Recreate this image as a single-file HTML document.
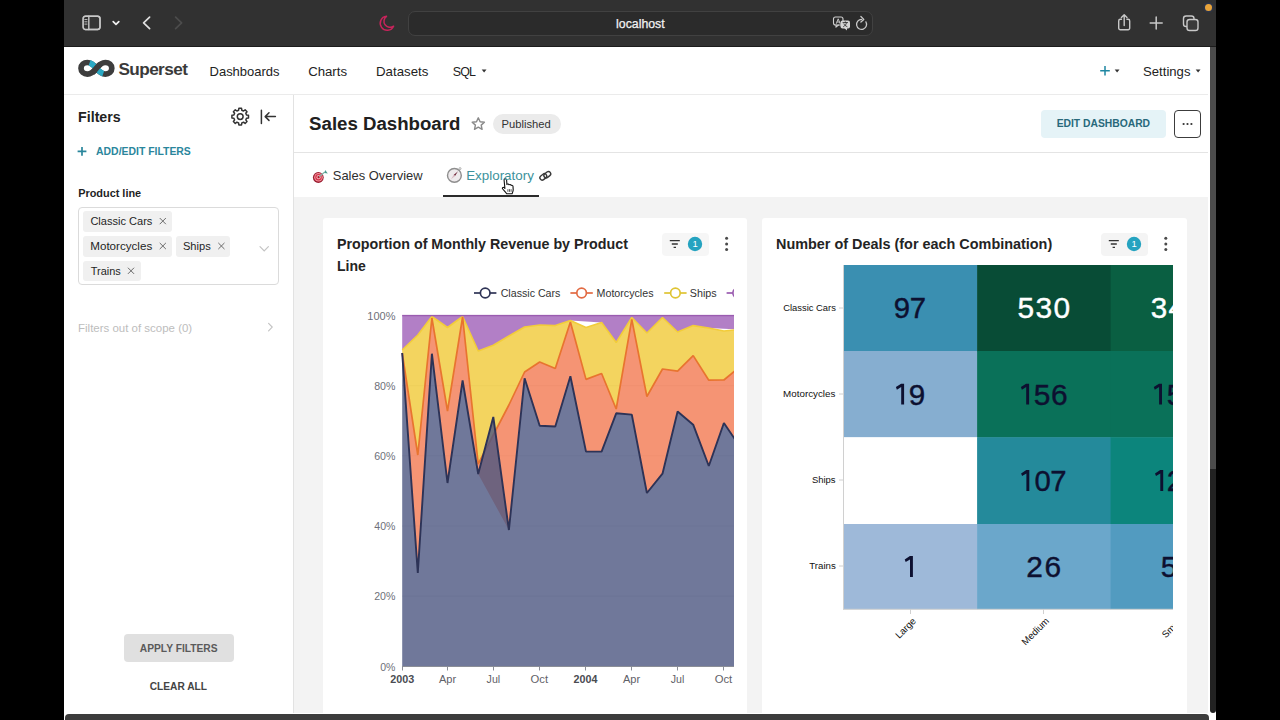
<!DOCTYPE html>
<html><head><meta charset="utf-8"><title>Sales Dashboard</title>
<style>
html,body{margin:0;padding:0;background:#000;width:1280px;height:720px;overflow:hidden;font-family:"Liberation Sans",sans-serif;}
.abs{position:absolute}
.t{position:absolute;white-space:pre;font-family:"Liberation Sans",sans-serif}
#win{position:absolute;left:64px;top:0;width:1152px;height:720px;background:#fff;overflow:hidden}
#page{position:absolute;left:0;top:0;width:1280px;height:720px;overflow:hidden}
.tag{position:absolute;background:#f0f0f0;border-radius:3px;height:20.5px}
</style></head><body>
<div id="win"></div>
<div id="page">
 <!-- toolbar -->
 <div class="abs" style="left:64px;top:0;width:1152px;height:46px;background:#313131"></div>
 <div class="abs" style="left:64px;top:45.5px;width:1152px;height:1.5px;background:#1c1c1c"></div>
 <div class="abs" style="left:408px;top:11px;width:463px;height:23px;border:1px solid #414141;border-radius:7px;background:#2b2b2b"></div>
 <svg class="abs" style="left:64px;top:0" width="1152" height="46" viewBox="64 0 1152 46" fill="none" stroke="#c8c8c8" stroke-width="1.4" stroke-linecap="round" stroke-linejoin="round">
  <rect x="83.2" y="16.3" width="16.8" height="13.2" rx="2.4" fill="#363636"/><rect x="83.2" y="16.3" width="5.6" height="13.2" fill="#313131" stroke="none"/><rect x="83.2" y="16.3" width="16.8" height="13.2" rx="2.4"/><line x1="88.8" y1="16.3" x2="88.8" y2="29.5"/>
  <g stroke-width="0.9"><line x1="84.8" y1="19.5" x2="87" y2="19.5"/><line x1="84.8" y1="21.8" x2="87" y2="21.8"/><line x1="84.8" y1="24.1" x2="87" y2="24.1"/></g>
  <polyline points="113.2,21.6 116,24.4 118.8,21.6" stroke="#f0f0f0" stroke-width="1.7"/>
  <polyline points="149.6,17.2 143.6,22.9 149.6,28.6" stroke="#e0e0e0" stroke-width="1.7"/>
  <polyline points="175.6,17.2 181.6,22.9 175.6,28.6" stroke="#4c4c4c" stroke-width="1.7"/>
  <path d="M386.5,16.3 A7,7 0 1 0 393.6,26.2 A5.6,5.6 0 0 1 386.5,16.3 Z" stroke="#c7245b" stroke-width="1.5"/>
  <!-- translate -->
  <g stroke="#d0d0d0" stroke-width="1.1"><rect x="833.5" y="17" width="9.5" height="8" rx="2"/><path d="M836,25 l0,2.2 l2.4,-2.2"/></g>
  <g stroke="none" fill="#d6d6d6"><rect x="840.5" y="20.5" width="9.5" height="8" rx="2"/><path d="M847,28 l0,2.6 l-2.8,-2.6z"/></g>
  <g stroke="#313131" stroke-width="0.9"><path d="M843,22.6h4.6M845.3,21.8v0.8M843.6,26.6c1.6,-0.8 2.6,-2.2 2.9,-3.8M844,24c0.6,1.2 1.6,2 3,2.6"/></g>
  <g stroke="#d0d0d0" stroke-width="0.9"><path d="M836.4,23.4l1.8,-4.6l1.8,4.6M837,22h2.4"/></g>
  <!-- reload -->
  <path d="M865.9,21.9 A5,5 0 1 1 861.6,19.4" stroke-width="1.3"/><path d="M860.9,16.5l2.9,2.9l-2.9,2.7" stroke-width="1.3"/>
  <!-- share -->
  <path d="M1121.5,19.3h-1.2a1.6,1.6 0 0 0 -1.6,1.6v7.2a1.6,1.6 0 0 0 1.6,1.6h7.8a1.6,1.6 0 0 0 1.6,-1.6v-7.2a1.6,1.6 0 0 0 -1.6,-1.6h-1.2"/><path d="M1124.2,25.6v-10.6M1121.4,17.6l2.8,-2.8l2.8,2.8"/>
  <path d="M1150.2,23h12M1156.2,17v12" stroke-width="1.5"/>
  <rect x="1183.5" y="16" width="10.5" height="10.5" rx="2.6"/><rect x="1187" y="19.5" width="11" height="11" rx="2.6" fill="#3a3a3a"/>
 </svg>
 <div class="abs" style="left:1205.2px;top:3.5px;width:7px;height:7px;border-radius:50%;background:#e9a43a;box-shadow:0 0 2px 1px rgba(40,60,110,0.7)"></div>

 <!-- nav -->
 <div class="abs" style="left:64px;top:94px;width:1146px;height:1px;background:#ebebeb"></div>
 <svg class="abs" style="left:76px;top:57px" width="42" height="24" viewBox="76 57 42 24" fill="none" stroke-linecap="butt">
  <path d="M96.4,68.3 C93.4,64.4 90.9,62.5 87.4,62.5 C83.8,62.5 81,65.1 81,68.3 C81,71.5 83.8,74.1 87.4,74.1 C90.9,74.1 93.4,72.2 96.4,68.3 C99.4,64.4 101.9,62.5 105.4,62.5 C109,62.5 111.8,65.1 111.8,68.3 C111.8,71.5 109,74.1 105.4,74.1 C101.9,74.1 99.4,72.2 96.4,68.3 Z" stroke="#3d3d3d" stroke-width="5.7"/>
  <path d="M89.6,62.8 C92.4,63.8 94.4,65.7 96.4,68.3 C98.4,70.9 100.4,72.8 103.2,73.8" stroke="#2aa9c4" stroke-width="5.7"/>
  <path d="M92.6,72.4 C94,71.3 95.2,69.9 96.4,68.3 C97.6,66.7 98.8,65.3 100.2,64.2" stroke="#3d3d3d" stroke-width="5.7"/>
 </svg>
 <svg class="abs" style="left:470px;top:60px" width="740" height="24" viewBox="470 60 740 24">
  <path d="M481.7,69.5h4.8l-2.4,2.9z" fill="#333"/>
  <path d="M1114.7,69.5h4.8l-2.4,2.9z" fill="#333"/>
  <path d="M1195.7,69.5h4.8l-2.4,2.9z" fill="#333"/>
  <path d="M1100.2,70.8h9.6M1105,66v9.6" stroke="#1f87a2" stroke-width="1.5" fill="none"/>
 </svg>

 <!-- sidebar -->
 <div class="abs" style="left:293px;top:95px;width:1px;height:619px;background:#e2e2e2"></div>
 <svg class="abs" style="left:228px;top:104px" width="56" height="26" viewBox="228 104 56 26" fill="none" stroke="#333" stroke-width="1.5" stroke-linecap="round" stroke-linejoin="round">
  <circle cx="240.2" cy="116.6" r="2.9"/>
  <path d="M246.50,114.99 L248.49,115.26 L248.49,117.94 L246.50,118.21 L245.79,119.92 L247.01,121.52 L245.12,123.41 L243.52,122.19 L241.81,122.90 L241.54,124.89 L238.86,124.89 L238.59,122.90 L236.88,122.19 L235.28,123.41 L233.39,121.52 L234.61,119.92 L233.90,118.21 L231.91,117.94 L231.91,115.26 L233.90,114.99 L234.61,113.28 L233.39,111.68 L235.28,109.79 L236.88,111.01 L238.59,110.30 L238.86,108.31 L241.54,108.31 L241.81,110.30 L243.52,111.01 L245.12,109.79 L247.01,111.68 L245.79,113.28Z"/>
  <path d="M261.4,110.2v13.2M275.4,116.6h-10M269,112.8l-3.8,3.8l3.8,3.8"/>
 </svg>
 <svg class="abs" style="left:76px;top:144px" width="14" height="14" viewBox="76 144 14 14"><path d="M77.6,151.4h8.8M82,147v8.8" stroke="#2a869c" stroke-width="1.7" fill="none"/></svg>
 <div class="abs" style="left:78.2px;top:207.3px;width:200.6px;height:77.4px;border:1px solid #dbdbdb;border-radius:4px;box-sizing:border-box"></div>
 <div class="tag" style="left:82.8px;top:211px;width:89.2px"></div>
 <div class="tag" style="left:82.8px;top:236px;width:89.2px"></div>
 <div class="tag" style="left:175.5px;top:236px;width:54.8px"></div>
 <div class="tag" style="left:82.8px;top:260.5px;width:58px"></div>
 <svg class="abs" style="left:64px;top:200px" width="230" height="140" viewBox="64 200 230 140" fill="none" stroke="#6b6b6b" stroke-width="1" stroke-linecap="round">
  <path d="M160,218.3l5.6,5.6M165.6,218.3l-5.6,5.6"/>
  <path d="M160,243.2l5.6,5.6M165.6,243.2l-5.6,5.6"/>
  <path d="M218.6,243.2l5.6,5.6M224.2,243.2l-5.6,5.6"/>
  <path d="M128.2,268l5.6,5.6M133.8,268l-5.6,5.6"/>
  <path d="M260,246.6l4.2,4.4l4.2,-4.4" stroke="#c4c4c4" stroke-width="1.2"/>
  <path d="M268.6,323.4l3.6,3.7l-3.6,3.7" stroke="#c4c4c4" stroke-width="1.2"/>
 </svg>
 <div class="abs" style="left:124px;top:634px;width:109.5px;height:27.5px;background:#e0e0e0;border-radius:4px"></div>

 <!-- header -->
 <div class="abs" style="left:294px;top:152px;width:916px;height:1px;background:#e4e4e4"></div>
 <svg class="abs" style="left:468px;top:114px" width="20" height="20" viewBox="468 114 20 20"><path d="M478.3,117.8l1.8,3.95l4.3,0.46l-3.2,2.9l0.9,4.25l-3.8,-2.2l-3.8,2.2l0.9,-4.25l-3.2,-2.9l4.3,-0.46z" fill="none" stroke="#8a8a8a" stroke-width="1.4" stroke-linejoin="round"/></svg>
 <div class="abs" style="left:493px;top:113.5px;width:67.5px;height:20px;background:#ebebeb;border-radius:10px"></div>
 <div class="abs" style="left:1041px;top:110px;width:125px;height:28px;background:#e5f3f7;border-radius:4px"></div>
 <div class="abs" style="left:1174px;top:110px;width:27px;height:28px;border:1px solid #3c3c3c;border-radius:4px;box-sizing:border-box"></div>
 <svg class="abs" style="left:1180px;top:120px" width="16" height="8" viewBox="1180 120 16 8" fill="#333"><circle cx="1183.6" cy="124" r="1.1"/><circle cx="1187.5" cy="124" r="1.1"/><circle cx="1191.4" cy="124" r="1.1"/></svg>

 <!-- tabs -->
 <div class="abs" style="left:443px;top:195.2px;width:95.5px;height:1.7px;background:#2b2b2b"></div>
 <div class="abs" style="left:294px;top:196.6px;width:916px;height:517px;background:#f3f3f3"></div>
 <svg class="abs" style="left:308px;top:164px" width="250" height="36" viewBox="308 164 250 36">
  <!-- dart -->
  <circle cx="318.3" cy="177.5" r="5.4" fill="#9a1b2e"/><circle cx="318.5" cy="177.3" r="4.3" fill="#f2909a"/><circle cx="318.5" cy="177.3" r="3.2" fill="#d4334a"/><circle cx="318.6" cy="177.2" r="2.1" fill="#f6a4ac"/><circle cx="318.6" cy="177.2" r="1.1" fill="#a8182b"/>
  <path d="M319.2,176.6l5.6,-4.6" stroke="#7fb3a7" stroke-width="1.2"/><path d="M325.2,170.1l2.6,3.3l-3.3,-0.4z" fill="#4a9d8e"/>
  <!-- compass -->
  <circle cx="454.4" cy="175.4" r="6.9" fill="#eeeaec" stroke="#8e8e8e" stroke-width="1.4"/>
  <circle cx="460" cy="168.6" r="1" fill="none" stroke="#9a9a9a" stroke-width="0.8"/>
  <path d="M458,171.2l-3,4.9l-1.3,-1.2z" fill="#6a1c30"/><path d="M450.8,179.6l3,-4.9l1.3,1.2z" fill="#d8b8c0"/>
  <!-- link -->
  <g fill="none" stroke="#3a3a3a" stroke-width="1.4"><rect x="539.6" y="174.6" width="7.4" height="4.6" rx="2.3" transform="rotate(-38 543.3 176.9)"/><rect x="543.6" y="172.4" width="7.4" height="4.6" rx="2.3" transform="rotate(-38 547.3 174.7)"/></g>
  <!-- cursor hand -->
  <g transform="translate(501.5,178.2)">
   <path d="M3.2,0.6 C4.2,0.2 5,0.9 5.1,1.8 L5.4,6.2 C6,5.6 7.2,5.7 7.5,6.6 C8.2,6 9.4,6.3 9.6,7.2 C10.3,6.8 11.4,7.2 11.5,8.2 L11.7,11.4 C11.8,13.2 10.9,14.2 10.6,15.6 L5.2,15.6 C4.4,14 2.4,12.2 1.2,10.8 C0.4,9.8 1.4,8.6 2.6,9.4 L3.4,10.2 L2.6,2 C2.5,1.3 2.7,0.8 3.2,0.6 Z" fill="#fff" stroke="#111" stroke-width="1.1" stroke-linejoin="round"/>
   <path d="M6.4,11v2.6M8,11v2.6M9.6,11v2.6" stroke="#111" stroke-width="0.7"/>
  </g>
 </svg>

 <!-- cards -->
 <div class="abs" style="left:322.7px;top:218.2px;width:424.8px;height:500px;background:#fff;border-radius:3px"></div>
 <div class="abs" style="left:762.2px;top:218.2px;width:424.8px;height:500px;background:#fff;border-radius:3px"></div>
 <div class="abs" style="left:661.5px;top:233px;width:47px;height:22.5px;background:#f6f6f6;border-radius:4px"></div>
 <div class="abs" style="left:1100.5px;top:233px;width:47px;height:22.5px;background:#f4f4f4;border-radius:4px"></div>
 <svg class="abs" style="left:660px;top:230px" width="520" height="30" viewBox="660 230 520 30">
  <g stroke="#333" stroke-width="1.3" fill="none"><path d="M669.8,240.6h10M671.8,244h6M673.6,247.4h2.4"/><path d="M1108.8,240.6h10M1110.8,244h6M1112.6,247.4h2.4"/></g>
  <circle cx="695" cy="244" r="7.2" fill="#25a3c0"/><circle cx="1134" cy="244" r="7.2" fill="#25a3c0"/>
  <g fill="#4a4a4a"><circle cx="726.6" cy="238.2" r="1.5"/><circle cx="726.6" cy="243.9" r="1.5"/><circle cx="726.6" cy="249.6" r="1.5"/>
  <circle cx="1165.8" cy="238.2" r="1.5"/><circle cx="1165.8" cy="243.9" r="1.5"/><circle cx="1165.8" cy="249.6" r="1.5"/></g>
 </svg>
 
<svg class="abs" style="left:322px;top:280px" width="412.3" height="420" viewBox="322 280 412.3 420">
 <defs><clipPath id="plotclip"><rect x="400" y="314.6" width="340" height="353"/></clipPath></defs>
 <g stroke="#e6e6e6" stroke-width="1">
  <line x1="402" x2="740" y1="315.5" y2="315.5"/><line x1="402" x2="740" y1="385.7" y2="385.7"/><line x1="402" x2="740" y1="455.8" y2="455.8"/><line x1="402" x2="740" y1="526" y2="526"/><line x1="402" x2="740" y1="596.1" y2="596.1"/>
 </g>
 <g fill="none" stroke-width="1.9" stroke-linejoin="bevel" clip-path="url(#plotclip)">
 <polygon points="402.2,315.5 417.8,315.5 431.9,315.5 447.5,315.5 462.6,315.5 478.2,315.5 493.3,315.5 508.9,315.5 524.6,315.5 539.7,315.5 555.3,315.5 570.4,315.5 601.6,315.5 616.2,315.5 631.8,315.5 646.9,315.5 662.5,315.5 677.6,315.5 693.2,315.5 708.8,315.5 739.5,315.5 739.5,329.5 708.8,328.0 693.2,325.6 677.6,332.0 662.5,317.5 646.9,333.0 631.8,317.5 616.2,342.5 601.6,322.5 570.4,320.6 555.3,325.6 539.7,325.0 524.6,327.0 508.9,336.0 493.3,345.3 478.2,351.0 462.6,316.5 447.5,327.5 431.9,316.5 417.8,335.0 402.2,350.0" fill="#9F5FB8" opacity="0.8"/>
 <polygon points="402.2,350.0 417.8,335.0 431.9,316.5 447.5,327.5 462.6,316.5 478.2,351.0 493.3,345.3 508.9,336.0 524.6,327.0 539.7,325.0 555.3,325.6 570.4,320.6 586.0,327.5 601.6,322.5 616.2,342.5 631.8,317.5 646.9,333.0 662.5,317.5 677.6,332.0 693.2,325.6 708.8,328.0 723.9,331.0 739.5,329.5 739.5,367.0 723.9,380.0 708.8,380.2 693.2,355.6 677.6,371.2 662.5,369.0 646.9,396.5 631.8,319.4 616.2,409.0 601.6,373.5 586.0,379.4 570.4,322.0 555.3,368.5 539.7,362.0 524.6,372.0 508.9,405.0 493.3,434.5 478.2,464.0 462.6,317.0 447.5,411.0 431.9,318.0 417.8,455.0 402.2,353.0" fill="#F0C937" opacity="0.8"/>
 <polyline points="402.2,350.0 417.8,335.0 431.9,316.5 447.5,327.5 462.6,316.5 478.2,351.0 493.3,345.3 508.9,336.0 524.6,327.0 539.7,325.0 555.3,325.6 570.4,320.6 586.0,327.5 601.6,322.5 616.2,342.5 631.8,317.5 646.9,333.0 662.5,317.5 677.6,332.0 693.2,325.6 708.8,328.0 723.9,331.0 739.5,329.5" stroke="#f2cc3a" stroke-width="1.6"/>
 <polygon points="402.2,353.0 417.8,455.0 431.9,318.0 447.5,411.0 462.6,317.0 478.2,464.0 508.9,405.0 524.6,372.0 539.7,362.0 555.3,368.5 570.4,322.0 586.0,379.4 601.6,373.5 616.2,409.0 631.8,319.4 646.9,396.5 662.5,369.0 677.6,371.2 693.2,355.6 708.8,380.2 723.9,380.0 739.5,367.0 739.5,446.0 723.9,423.0 708.8,466.0 693.2,424.7 677.6,411.5 662.5,473.7 646.9,493.0 631.8,414.6 616.2,413.3 601.6,451.6 586.0,451.6 570.4,376.3 555.3,426.5 539.7,425.8 524.6,378.3 508.9,530.0 478.2,474.0 462.6,380.5 447.5,483.0 431.9,353.7 417.8,573.0 402.2,353.0" fill="#F27951" opacity="0.8"/>
 <polyline points="402.2,353.0 417.8,455.0 431.9,318.0 447.5,411.0 462.6,317.0 478.2,464.0 508.9,405.0 524.6,372.0 539.7,362.0 555.3,368.5 570.4,322.0 586.0,379.4 601.6,373.5 616.2,409.0 631.8,319.4 646.9,396.5 662.5,369.0 677.6,371.2 693.2,355.6 708.8,380.2 723.9,380.0 739.5,367.0" stroke="#e8742f" stroke-width="1.7"/>
 <polygon points="402.2,353.0 417.8,573.0 431.9,353.7 447.5,483.0 462.6,380.5 478.2,474.0 493.3,417.0 508.9,530.0 524.6,378.3 539.7,425.8 555.3,426.5 570.4,376.3 586.0,451.6 601.6,451.6 616.2,413.3 631.8,414.6 646.9,493.0 662.5,473.7 677.6,411.5 693.2,424.7 708.8,466.0 723.9,423.0 739.5,446.0 739.5,666.3 723.9,666.3 708.8,666.3 693.2,666.3 677.6,666.3 662.5,666.3 646.9,666.3 631.8,666.3 616.2,666.3 601.6,666.3 586.0,666.3 570.4,666.3 555.3,666.3 539.7,666.3 524.6,666.3 508.9,666.3 493.3,666.3 478.2,666.3 462.6,666.3 447.5,666.3 431.9,666.3 417.8,666.3 402.2,666.3" fill="#4C5681" opacity="0.8"/>
 <polyline points="402.2,353.0 417.8,573.0 431.9,353.7 447.5,483.0 462.6,380.5 478.2,474.0 493.3,417.0 508.9,530.0 524.6,378.3 539.7,425.8 555.3,426.5 570.4,376.3 586.0,451.6 601.6,451.6 616.2,413.3 631.8,414.6 646.9,493.0 662.5,473.7 677.6,411.5 693.2,424.7 708.8,466.0 723.9,423.0 739.5,446.0" stroke="#2d3357"/>
 <polyline points="402.2,315.5 417.8,315.5 431.9,315.5 447.5,315.5 462.6,315.5 478.2,315.5 493.3,315.5 508.9,315.5 524.6,315.5 539.7,315.5 555.3,315.5 570.4,315.5 586.0,315.5 601.6,315.5 616.2,315.5 631.8,315.5 646.9,315.5 662.5,315.5 677.6,315.5 693.2,315.5 708.8,315.5 723.9,315.5 739.5,315.5" stroke="#9a5cb0" stroke-width="1.6"/>
 </g>
 <g stroke="#8a8d96" stroke-width="1">
  <line x1="402" x2="740" y1="666.5" y2="666.5"/>
  <line x1="402.5" x2="402.5" y1="666" y2="670.5"/><line x1="447.5" x2="447.5" y1="666" y2="670.5"/><line x1="493.5" x2="493.5" y1="666" y2="670.5"/><line x1="539.5" x2="539.5" y1="666" y2="670.5"/><line x1="585.5" x2="585.5" y1="666" y2="670.5"/><line x1="631.5" x2="631.5" y1="666" y2="670.5"/><line x1="677.5" x2="677.5" y1="666" y2="670.5"/><line x1="723.5" x2="723.5" y1="666" y2="670.5"/>
 </g>
 <!-- legend -->
 <g fill="#fff" stroke-width="1.7">
  <line x1="474" x2="496.4" y1="293" y2="293" stroke="#2f3456"/><circle cx="485.2" cy="293" r="4.8" stroke="#2f3456"/>
  <line x1="570.4" x2="592.8" y1="293" y2="293" stroke="#e26a42"/><circle cx="581.6" cy="293" r="4.8" stroke="#e26a42"/>
  <line x1="664.2" x2="686.6" y1="293" y2="293" stroke="#dfc433"/><circle cx="675.4" cy="293" r="4.8" stroke="#dfc433"/>
  <line x1="726.6" x2="749" y1="293" y2="293" stroke="#9a5cb0"/><circle cx="737.7" cy="293" r="4.8" stroke="#9a5cb0"/>
 </g>
</svg>
 
<svg class="abs" style="left:762px;top:255px" width="411" height="440" viewBox="762 255 411 440">
 <rect x="843.7" y="265.0" width="133.9" height="86.5" fill="#3a8fb1"/><rect x="977.1" y="265.0" width="134.0" height="86.5" fill="#084c36"/><rect x="1110.6" y="265.0" width="133.9" height="86.5" fill="#0a5f42"/><rect x="843.7" y="351.0" width="133.9" height="86.7" fill="#86aed0"/><rect x="977.1" y="351.0" width="134.0" height="86.7" fill="#0a7159"/><rect x="1110.6" y="351.0" width="133.9" height="86.7" fill="#0a7159"/><rect x="843.7" y="437.2" width="133.9" height="87.3" fill="#ffffff"/><rect x="977.1" y="437.2" width="134.0" height="87.3" fill="#248a9b"/><rect x="1110.6" y="437.2" width="133.9" height="87.3" fill="#0c857c"/><rect x="843.7" y="524.0" width="133.9" height="85.3" fill="#9eb9d9"/><rect x="977.1" y="524.0" width="134.0" height="85.3" fill="#6ba7cb"/><rect x="1110.6" y="524.0" width="133.9" height="85.3" fill="#529bc0"/>
 <g stroke="#d0d0d0" stroke-width="1">
  <line x1="843.5" x2="843.5" y1="265" y2="609.5"/>
  <line x1="843" x2="1180" y1="609.3" y2="609.3"/>
  <line x1="839" x2="843" y1="308" y2="308"/><line x1="839" x2="843" y1="394" y2="394"/><line x1="839" x2="843" y1="480" y2="480"/><line x1="839" x2="843" y1="566" y2="566"/>
  <line x1="910.5" x2="910.5" y1="609" y2="614"/><line x1="1043.5" x2="1043.5" y1="609" y2="614"/>
 </g>
</svg>
 <svg class="abs" style="left:762px;top:255px" width="411" height="440" viewBox="762 255 411 440"><path d="M904.10,383.70 L904.10,404.50 L901.20,404.50 L901.20,387.10 L896.90,389.70 L895.90,387.00 L901.10,383.70 Z" fill="#0d1030"/><path d="M1029.10,383.70 L1029.10,404.50 L1026.20,404.50 L1026.20,387.10 L1021.90,389.70 L1020.90,387.00 L1026.10,383.70 Z" fill="#0d1030"/><path d="M1162.00,383.70 L1162.00,404.50 L1159.10,404.50 L1159.10,387.10 L1154.80,389.70 L1153.80,387.00 L1159.00,383.70 Z" fill="#0d1030"/><path d="M1029.30,470.10 L1029.30,490.90 L1026.40,490.90 L1026.40,473.50 L1022.10,476.10 L1021.10,473.40 L1026.30,470.10 Z" fill="#0d1030"/><path d="M1163.20,470.10 L1163.20,490.90 L1160.30,490.90 L1160.30,473.50 L1156.00,476.10 L1155.00,473.40 L1160.20,470.10 Z" fill="#0d1030"/><path d="M912.90,556.10 L912.90,576.90 L910.00,576.90 L910.00,559.50 L905.70,562.10 L904.70,559.40 L909.90,556.10 Z" fill="#0d1030"/></svg>
<span class="t" style="left:616.10px;top:15.0px;font-size:12.32px;line-height:18px;font-weight:400;color:#f2f2f2;letter-spacing:0.000px;-webkit-text-stroke:0.25px #f2f2f2;">localhost</span>
<span class="t" style="left:118.43px;top:57.0px;font-size:17.20px;line-height:24px;font-weight:700;color:#3a3a3a;letter-spacing:-0.584px;">Superset</span>
<span class="t" style="left:209.54px;top:63.0px;font-size:12.99px;line-height:18px;font-weight:400;color:#222;letter-spacing:0.000px;">Dashboards</span>
<span class="t" style="left:308.14px;top:63.0px;font-size:13.22px;line-height:18px;font-weight:400;color:#222;letter-spacing:0.000px;">Charts</span>
<span class="t" style="left:376.04px;top:63.0px;font-size:13.28px;line-height:18px;font-weight:400;color:#222;letter-spacing:0.000px;">Datasets</span>
<span class="t" style="left:452.78px;top:63.0px;font-size:12.42px;line-height:18px;font-weight:400;color:#222;letter-spacing:-0.844px;">SQL</span>
<span class="t" style="left:1143.07px;top:63.0px;font-size:13.11px;line-height:18px;font-weight:400;color:#222;letter-spacing:0.000px;">Settings</span>
<span class="t" style="left:78.06px;top:107.0px;font-size:14.23px;line-height:20px;font-weight:700;color:#222;letter-spacing:0.000px;">Filters</span>
<span class="t" style="left:96.06px;top:145.0px;font-size:10.43px;line-height:14px;font-weight:700;color:#2a869c;letter-spacing:0.000px;">ADD/EDIT FILTERS</span>
<span class="t" style="left:78.13px;top:185.0px;font-size:10.91px;line-height:16px;font-weight:700;color:#1f1f1f;letter-spacing:0.000px;">Product line</span>
<span class="t" style="left:90.38px;top:213.0px;font-size:11.06px;line-height:16px;font-weight:400;color:#1f1f1f;letter-spacing:-0.000px;">Classic Cars</span>
<span class="t" style="left:90.26px;top:238.0px;font-size:11.62px;line-height:16px;font-weight:400;color:#1f1f1f;letter-spacing:0.000px;">Motorcycles</span>
<span class="t" style="left:182.93px;top:238.0px;font-size:11.13px;line-height:16px;font-weight:400;color:#1f1f1f;letter-spacing:0.000px;">Ships</span>
<span class="t" style="left:90.75px;top:263.0px;font-size:10.94px;line-height:16px;font-weight:400;color:#1f1f1f;letter-spacing:0.000px;">Trains</span>
<span class="t" style="left:78.07px;top:320.0px;font-size:11.47px;line-height:16px;font-weight:400;color:#bdbdbd;letter-spacing:0.000px;">Filters out of scope (0)</span>
<span class="t" style="left:139.78px;top:642.0px;font-size:10.26px;line-height:14px;font-weight:700;color:#5a5a5a;letter-spacing:0.000px;">APPLY FILTERS</span>
<span class="t" style="left:149.75px;top:680.0px;font-size:10.17px;line-height:14px;font-weight:700;color:#444;letter-spacing:0.000px;">CLEAR ALL</span>
<span class="t" style="left:309.10px;top:111.0px;font-size:18.65px;line-height:26px;font-weight:700;color:#202020;letter-spacing:0.000px;">Sales Dashboard</span>
<span class="t" style="left:501.57px;top:116.0px;font-size:11.23px;line-height:16px;font-weight:400;color:#333;letter-spacing:0.000px;">Published</span>
<span class="t" style="left:1056.65px;top:117.0px;font-size:10.32px;line-height:14px;font-weight:700;color:#28697b;letter-spacing:-0.000px;">EDIT DASHBOARD</span>
<span class="t" style="left:332.77px;top:167.0px;font-size:12.94px;line-height:18px;font-weight:400;color:#2f2f2f;letter-spacing:0.000px;">Sales Overview</span>
<span class="t" style="left:466.14px;top:167.0px;font-size:13.42px;line-height:18px;font-weight:400;color:#3d929c;letter-spacing:0.000px;">Exploratory</span>
<span class="t" style="left:337.06px;top:234.0px;font-size:14.27px;line-height:20px;font-weight:700;color:#242424;letter-spacing:0.000px;">Proportion of Monthly Revenue by Product</span>
<span class="t" style="left:337.07px;top:256.0px;font-size:14.00px;line-height:20px;font-weight:700;color:#242424;letter-spacing:0.000px;">Line</span>
<span class="t" style="left:776.06px;top:234.0px;font-size:14.42px;line-height:20px;font-weight:700;color:#242424;letter-spacing:0.000px;">Number of Deals (for each Combination)</span>
<span class="t" style="left:692.40px;top:237.0px;font-size:9.50px;line-height:14px;font-weight:400;color:#fff;letter-spacing:0.000px;">1</span>
<span class="t" style="left:1131.40px;top:237.0px;font-size:9.50px;line-height:14px;font-weight:400;color:#fff;letter-spacing:0.000px;">1</span>
<span class="t" style="left:500.69px;top:286.0px;font-size:10.65px;line-height:14px;font-weight:400;color:#333;letter-spacing:0.000px;">Classic Cars</span>
<span class="t" style="left:596.59px;top:286.0px;font-size:10.68px;line-height:14px;font-weight:400;color:#333;letter-spacing:0.000px;">Motorcycles</span>
<span class="t" style="left:689.84px;top:285.0px;font-size:10.76px;line-height:16px;font-weight:400;color:#333;letter-spacing:0.000px;">Ships</span>
<span class="t" style="left:367.36px;top:308.0px;font-size:11.00px;line-height:16px;font-weight:400;color:#6E7079;letter-spacing:0.000px;">100%</span>
<span class="t" style="left:374.23px;top:379.0px;font-size:10.61px;line-height:14px;font-weight:400;color:#6E7079;letter-spacing:0.000px;">80%</span>
<span class="t" style="left:374.20px;top:449.0px;font-size:10.63px;line-height:14px;font-weight:400;color:#6E7079;letter-spacing:0.000px;">60%</span>
<span class="t" style="left:374.34px;top:519.0px;font-size:10.56px;line-height:14px;font-weight:400;color:#6E7079;letter-spacing:0.000px;">40%</span>
<span class="t" style="left:374.21px;top:589.0px;font-size:10.62px;line-height:14px;font-weight:400;color:#6E7079;letter-spacing:0.000px;">20%</span>
<span class="t" style="left:380.25px;top:660.0px;font-size:10.53px;line-height:14px;font-weight:400;color:#6E7079;letter-spacing:0.000px;">0%</span>
<span class="t" style="left:390.29px;top:671.0px;font-size:10.79px;line-height:16px;font-weight:700;color:#4a4c52;letter-spacing:0.000px;">2003</span>
<span class="t" style="left:438.94px;top:671.0px;font-size:11.05px;line-height:16px;font-weight:400;color:#5f6168;letter-spacing:0.000px;">Apr</span>
<span class="t" style="left:486.61px;top:672.0px;font-size:10.60px;line-height:14px;font-weight:400;color:#5f6168;letter-spacing:-0.000px;">Jul</span>
<span class="t" style="left:530.50px;top:671.0px;font-size:11.26px;line-height:16px;font-weight:400;color:#5f6168;letter-spacing:0.000px;">Oct</span>
<span class="t" style="left:573.59px;top:671.0px;font-size:10.73px;line-height:16px;font-weight:700;color:#4a4c52;letter-spacing:0.000px;">2004</span>
<span class="t" style="left:622.94px;top:671.0px;font-size:11.05px;line-height:16px;font-weight:400;color:#5f6168;letter-spacing:0.000px;">Apr</span>
<span class="t" style="left:670.71px;top:672.0px;font-size:10.60px;line-height:14px;font-weight:400;color:#5f6168;letter-spacing:-0.000px;">Jul</span>
<span class="t" style="left:714.70px;top:671.0px;font-size:11.26px;line-height:16px;font-weight:400;color:#5f6168;letter-spacing:0.000px;">Oct</span>
<span class="t" style="left:783.21px;top:301.0px;font-size:9.40px;line-height:14px;font-weight:400;color:#111;letter-spacing:0.000px;">Classic Cars</span>
<span class="t" style="left:783.12px;top:387.0px;font-size:9.81px;line-height:14px;font-weight:400;color:#111;letter-spacing:0.000px;">Motorcycles</span>
<span class="t" style="left:811.93px;top:473.0px;font-size:9.44px;line-height:14px;font-weight:400;color:#111;letter-spacing:0.000px;">Ships</span>
<span class="t" style="left:809.27px;top:559.0px;font-size:9.66px;line-height:14px;font-weight:400;color:#111;letter-spacing:0.000px;">Trains</span>
<span class="t" style="left:893.78px;top:287.0px;font-size:29.30px;line-height:42px;font-weight:400;color:#0d1030;letter-spacing:-0.242px;-webkit-text-stroke:0.4px #0d1030;">97</span>
<span class="t" style="left:1017.50px;top:287.0px;font-size:29.90px;line-height:42px;font-weight:400;color:#fff;letter-spacing:1.365px;-webkit-text-stroke:0.4px #fff;">530</span>
<span class="t" style="left:1150.74px;top:287.0px;font-size:29.60px;line-height:42px;font-weight:400;color:#fff;letter-spacing:0.000px;-webkit-text-stroke:0.4px #fff;">3</span>
<span class="t" style="left:1168.41px;top:287.0px;font-size:29.60px;line-height:42px;font-weight:400;color:#fff;letter-spacing:0.000px;-webkit-text-stroke:0.4px #fff;">4</span>
<span class="t" style="left:908.64px;top:374.0px;font-size:29.60px;line-height:42px;font-weight:400;color:#0d1030;letter-spacing:0.000px;-webkit-text-stroke:0.4px #0d1030;">9</span>
<span class="t" style="left:1033.75px;top:374.0px;font-size:29.90px;line-height:42px;font-weight:400;color:#0d1030;letter-spacing:0.694px;-webkit-text-stroke:0.4px #0d1030;">56</span>
<span class="t" style="left:1166.75px;top:374.0px;font-size:29.60px;line-height:42px;font-weight:400;color:#0d1030;letter-spacing:0.000px;-webkit-text-stroke:0.4px #0d1030;">5</span>
<span class="t" style="left:1034.43px;top:460.0px;font-size:29.30px;line-height:42px;font-weight:400;color:#0d1030;letter-spacing:-0.589px;-webkit-text-stroke:0.4px #0d1030;">07</span>
<span class="t" style="left:1166.84px;top:460.0px;font-size:29.60px;line-height:42px;font-weight:400;color:#0d1030;letter-spacing:0.000px;-webkit-text-stroke:0.4px #0d1030;">2</span>
<span class="t" style="left:1026.24px;top:546.0px;font-size:29.90px;line-height:42px;font-weight:400;color:#0d1030;letter-spacing:1.600px;-webkit-text-stroke:0.4px #0d1030;">26</span>
<span class="t" style="left:1160.85px;top:546.0px;font-size:29.60px;line-height:42px;font-weight:400;color:#0d1030;letter-spacing:0.000px;-webkit-text-stroke:0.4px #0d1030;">5</span>
 <div class="abs" style="left:1173px;top:255px;width:14px;height:440px;background:#fff"></div>
 <div class="abs" style="left:1187px;top:255px;width:23px;height:440px;background:#f3f3f3"></div>
 <div class="abs" style="left:762px;top:610px;width:411px;height:60px;overflow:hidden">
  <span class="t" style="left:0;top:0;font-size:9.6px;line-height:12px;color:#111;transform-origin:100% 50%;transform:translate(-100%,0) translate(152.5px,3.5px) rotate(-45deg)">Large</span>
  <span class="t" style="left:0;top:0;font-size:9.6px;line-height:12px;color:#111;transform-origin:100% 50%;transform:translate(-100%,0) translate(285.5px,3.5px) rotate(-45deg)">Medium</span>
  <span class="t" style="left:0;top:0;font-size:9.6px;line-height:12px;color:#111;transform-origin:100% 50%;transform:translate(-100%,0) translate(418.5px,3.5px) rotate(-45deg)">Small</span>
 </div>
 <!-- scrollbars -->
 <div class="abs" style="left:1208px;top:47px;width:8px;height:673px;background:#fff"></div>
 <div class="abs" style="left:1210px;top:47px;width:6px;height:666px;background:#222;border-radius:0 0 3px 3px"></div>
 <div class="abs" style="left:1210px;top:47px;width:6px;height:422px;background:#4b4b4b"></div>
 <div class="abs" style="left:64px;top:713px;width:1152px;height:7px;background:#fff"></div>
 <div class="abs" style="left:65px;top:713.6px;width:1144px;height:8px;background:#3c3c3c;border-radius:4px 4px 0 0"></div>
 <div class="abs" style="left:0;top:0;width:64px;height:720px;background:#000"></div>
 <div class="abs" style="left:1216px;top:0;width:64px;height:720px;background:#000"></div>
</div>
</body></html>
